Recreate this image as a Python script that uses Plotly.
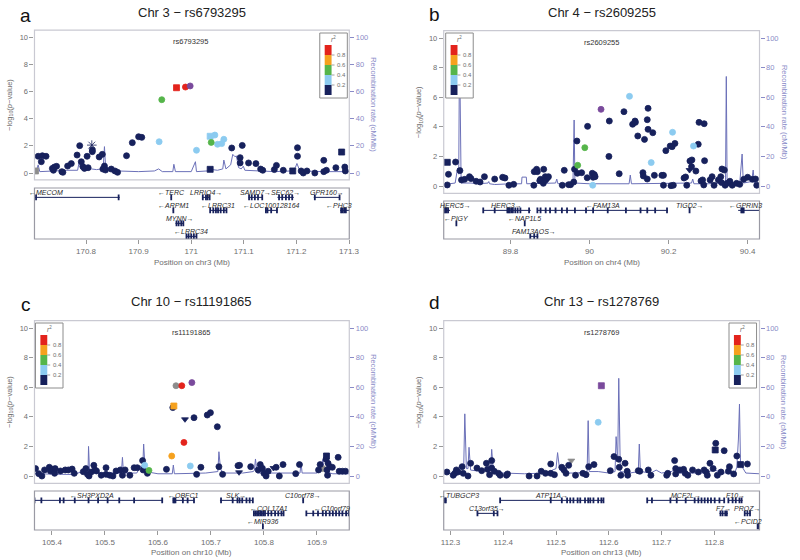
import plotly.graph_objects as go

W, H = 800, 560
FONT = "Liberation Sans, Arial, sans-serif"

# LD code: first char = r2 bin (n <0.2, b 0.2-0.4, g 0.4-0.6, o 0.6-0.8,
# r >0.8, p index SNP, x no LD), optional second char = marker shape
LD_COLOR = {
    "n": "#17215c", "b": "#8ccbf0", "g": "#55b54a", "o": "#f5a11e",
    "r": "#e3231c", "p": "#7a4a9c", "x": "#8c8c8c",
}
SHAPE = {"": "circle", "s": "square", "v": "triangle-down", "*": "asterisk-open"}
DRAW_ORDER = {"x": 0, "n": 1, "b": 2, "g": 3, "o": 4, "r": 5, "p": 6}
LEGEND_BANDS = ["r", "o", "g", "b", "n"]
LEGEND_LABELS = ["0.8", "0.6", "0.4", "0.2"]

NAVY = LD_COLOR["n"]
RECOMB = "#6b70b8"
RECOMB_AXIS = "#8a8cc8"
GRAY = "#6e6e6e"

# ---------------- panel a : chr3 ----------------
A_SNPS = [
    (170.704, 0.15, "xs"), (170.709, 1.23, "n"), (170.717, 1.27, "n"),
    (170.724, 1.23, "n"), (170.715, 0.83, "n"), (170.736, 0.34, "n"),
    (170.740, 0.44, "n"), (170.744, 0.49, "n"), (170.738, 0.20, "n"),
    (170.754, 0.10, "n"), (170.756, 0.05, "n"), (170.765, 0.51, "n"),
    (170.772, 0.69, "n"), (170.783, 1.32, "n"), (170.788, 2.01, "n"),
    (170.791, 0.83, "n"), (170.794, 0.47, "n"), (170.797, 0.34, "n"),
    (170.804, 0.39, "n"), (170.802, 1.23, "n"), (170.812, 1.57, "n"),
    (170.812, 1.70, "n"), (170.811, 2.05, "n*"), (170.825, 1.18, "n"),
    (170.831, 1.37, "n"), (170.832, 0.29, "n"), (170.835, 0.51, "n"),
    (170.837, 0.22, "n"), (170.848, 0.29, "n"), (170.855, 0.15, "n"),
    (170.860, 0.05, "n"), (170.877, 1.27, "n"), (170.888, 2.23, "n"),
    (170.900, 2.67, "n"), (170.906, 2.62, "n"), (171.036, 0.27, "ns"),
    (171.077, 1.84, "n"), (171.097, 2.03, "n"), (171.093, 1.13, "n"),
    (171.093, 0.74, "n"), (171.109, 0.74, "n"), (171.123, 0.69, "n"),
    (171.132, 0.29, "n"), (171.136, 0.20, "n"), (171.158, 0.25, "n"),
    (171.162, 0.56, "n"), (171.175, 0.20, "n"), (171.193, 0.15, "ns"),
    (171.202, 1.86, "n"), (171.202, 1.23, "n"), (171.209, 0.15, "n"),
    (171.213, 0.00, "n"), (171.220, 0.15, "n"), (171.235, 0.00, "n"),
    (171.252, 0.93, "n"), (171.252, 0.10, "n"), (171.257, 0.20, "n"),
    (171.275, 0.39, "n"), (171.286, 1.54, "ns"), (171.292, 0.44, "n"),
    (171.293, 0.15, "n"), (170.939, 2.30, "b"), (171.010, 1.67, "b"),
    (171.036, 2.70, "bs"), (171.045, 2.79, "b"), (171.050, 2.11, "b"),
    (171.058, 2.16, "b"), (171.062, 2.48, "b"), (171.038, 2.25, "g"),
    (170.944, 5.39, "g"), (170.972, 6.27, "rs"), (170.989, 6.32, "r"),
    (170.998, 6.40, "p"),
]
A_RECOMB_POS = [
    170.702, 170.706, 170.709, 170.712, 170.740, 170.760, 170.784, 170.787,
    170.790, 170.800, 170.810, 170.820, 170.830, 170.833, 170.835, 170.837,
    170.840, 170.850, 170.860, 170.900, 170.930, 170.938, 170.945, 170.965,
    170.967, 170.970, 171.000, 171.008, 171.010, 171.030, 171.040, 171.050,
    171.060, 171.062, 171.066, 171.075, 171.079, 171.083, 171.086, 171.090,
    171.095, 171.099, 171.102, 171.130, 171.160, 171.190, 171.198, 171.201,
    171.205, 171.210, 171.250, 171.300,
]
A_RECOMB_RATE = [
    1, 2, 6, 1, 1.5, 2, 2, 8.3, 3, 2, 3, 2.5, 3, 6, 19.4, 6,
    4, 3, 1.5, 1, 1.5, 3, 1, 1, 6.4, 1, 1, 8.3, 1, 1.5, 2.5, 2,
    3, 9.5, 3, 6, 13.7, 12, 12.5, 4, 3, 5, 2, 1.5, 1, 1.5, 4, 7,
    3, 1.5, 1, 1,
]
A_GENES = [  # name, start, end, strand, row, exons
    ("MECOM", 170.284, 170.864, "-", 1, [170.705, 170.862]),
    ("TERC", 170.961, 170.963, "-", 1, [170.962]),
    ("LRRIQ4", 171.022, 171.035, "+", 1, [171.022, 171.028, 171.031, 171.035]),
    ("SAMD7", 171.109, 171.136, "+", 1, [171.110, 171.115, 171.121, 171.127, 171.135]),
    ("SEC62", 171.164, 171.195, "+", 1, [171.167, 171.173, 171.180, 171.186, 171.192]),
    ("GPR160", 171.233, 171.283, "+", 1, [171.235, 171.282]),
    ("ARPM1", 170.965, 170.967, "-", 2, [170.966]),
    ("LRRC31", 171.036, 171.067, "-", 2,
     [171.036, 171.042, 171.047, 171.051, 171.056, 171.062, 171.067]),
    ("LOC100128164", 171.141, 171.164, "-", 2, [171.142, 171.145, 171.152, 171.163]),
    ("PHC3", 171.283, 171.350, "-", 2, [171.285, 171.288, 171.291, 171.294]),
    ("MYNN", 170.970, 170.986, "+", 3, [170.972, 170.976, 170.981, 170.985]),
    ("LRRC34", 170.990, 171.011, "-", 4, [170.991, 170.995, 171.000, 171.005, 171.010]),
]
A_TICKS = [170.8, 170.9, 171.0, 171.1, 171.2, 171.3]
A_TICK_TEXT = ["170.8", "170.9", "171", "171.1", "171.2", "171.3"]

# ---------------- panel b : chr4 ----------------
B_SNPS = [
    (89.640, 1.60, "ns"), (89.643, 0.79, "n"), (89.661, 1.62, "n"),
    (89.640, 0.07, "n"), (89.672, 1.04, "n"), (89.676, 0.41, "n"),
    (89.684, 0.45, "n"), (89.696, 0.63, "n"), (89.700, 0.50, "n"),
    (89.713, 0.32, "n"), (89.723, 0.27, "n"), (89.734, 0.63, "n"),
    (89.760, 0.47, "n"), (89.780, 0.59, "n"), (89.786, 0.54, "n"),
    (89.796, 0.05, "n"), (89.808, 0.11, "n"), (89.859, 0.05, "n"),
    (89.860, 0.97, "n"), (89.866, 1.13, "n"), (89.868, 0.97, "n"),
    (89.874, 0.36, "n"), (89.876, 0.45, "n"), (89.883, 0.18, "n"),
    (89.884, 1.13, "n"), (89.888, 0.63, "n"), (89.889, 0.41, "n"),
    (89.893, 0.54, "n"), (89.896, 0.63, "n"), (89.931, 0.05, "n"),
    (89.936, 1.06, "n"), (89.947, 0.09, "n"), (89.952, 0.09, "n"),
    (89.960, 0.27, "n"), (89.962, 1.13, "n"), (89.968, 3.04, "n"),
    (89.969, 0.86, "n"), (89.980, 0.90, "n"), (89.994, 0.56, "n"),
    (89.995, 4.03, "n"), (90.007, 0.86, "n"), (90.009, 0.59, "n"),
    (90.012, 0.77, "n"), (90.014, 0.63, "n"), (90.049, 2.00, "n"),
    (90.050, 4.39, "n"), (90.075, 0.83, "n"), (90.087, 5.02, "n"),
    (90.109, 4.17, "n"), (90.115, 4.39, "n"), (90.116, 4.30, "n"),
    (90.122, 3.38, "n"), (90.135, 0.90, "n"), (90.136, 0.68, "n"),
    (90.139, 3.15, "n"), (90.146, 0.47, "n"), (90.146, 4.48, "n"),
    (90.148, 5.25, "n"), (90.148, 3.83, "n"), (90.160, 3.60, "n"),
    (90.164, 0.72, "n"), (90.183, 0.72, "n"), (90.187, 0.72, "n"),
    (90.187, 0.05, "n"), (90.193, 2.39, "n"), (90.204, 2.70, "n"),
    (90.206, 0.02, "n"), (90.209, 2.66, "n"), (90.212, 0.05, "n"),
    (90.216, 2.88, "n"), (90.239, 0.54, "n"), (90.243, 0.61, "n"),
    (90.246, 0.05, "n"), (90.253, 1.08, "nv"), (90.254, 1.69, "n"),
    (90.258, 1.31, "n"), (90.259, 1.76, "n"), (90.269, 1.01, "n"),
    (90.275, 2.82, "n"), (90.277, 4.30, "n"), (90.282, 0.34, "n"),
    (90.286, 0.41, "n"), (90.289, 0.07, "n"), (90.290, 4.21, "n"),
    (90.291, 1.71, "n"), (90.305, 0.41, "n"), (90.310, 0.63, "n"),
    (90.315, 0.05, "n"), (90.326, 0.41, "n"), (90.332, 0.63, "n"),
    (90.334, 0.23, "n"), (90.335, 1.15, "n"), (90.341, 1.08, "n"),
    (90.343, 0.05, "n"), (90.348, 0.18, "n"), (90.355, 0.32, "n"),
    (90.361, 0.05, "n"), (90.372, 0.18, "n"), (90.380, 0.11, "n"),
    (90.390, 0.45, "n"), (90.400, 0.59, "n"), (90.412, 0.45, "n"),
    (90.420, 0.47, "n"), (90.423, 0.05, "n"), (89.970, 1.40, "g"),
    (89.988, 2.59, "g"), (90.008, 0.05, "b"), (90.101, 6.06, "b"),
    (90.156, 1.58, "b"), (90.210, 3.63, "b"), (90.263, 2.70, "b"),
    (90.029, 5.18, "p"),
]
B_RECOMB_POS = [
    89.631, 89.660, 89.666, 89.669, 89.671, 89.673, 89.675, 89.700,
    89.720, 89.743, 89.745, 89.747, 89.760, 89.800, 89.828, 89.829,
    89.840, 89.841, 89.870, 89.914, 89.917, 89.920, 89.958, 89.961,
    89.963, 90.000, 90.100, 90.103, 90.106, 90.200, 90.258, 90.261,
    90.264, 90.300, 90.344, 90.346, 90.348, 90.380, 90.386, 90.389,
    90.410, 90.414, 90.417, 90.430,
]
B_RECOMB_RATE = [
    1, 2, 12, 8, 98, 30, 2, 2, 1.5, 2, 3, 1.5, 1, 1.5, 1.5, 6,
    6, 1.5, 1.5, 2, 4.7, 1.5, 2, 44.6, 2, 1.5, 1.5, 7.4, 1.5, 1.5, 2, 4.7,
    1.5, 1.5, 2, 74, 2, 2, 21.6, 2, 3, 10.8, 2, 1.5,
]
B_GENES = [
    ("HERC5", 89.600, 89.647, "+", 1, [89.632, 89.635, 89.638, 89.642]),
    ("HERC3", 89.731, 89.851, "+", 1,
     [89.731, 89.760, 89.792, 89.795, 89.798, 89.802, 89.806, 89.812,
      89.818, 89.825, 89.847]),
    ("FAM13A", 89.868, 90.198, "-", 1,
     [89.868, 89.876, 89.889, 89.900, 89.914, 89.930, 89.943, 89.963,
      89.991, 90.009, 90.046, 90.092, 90.129, 90.146, 90.166, 90.196]),
    ("TIGD2", 90.252, 90.254, "+", 1, [90.253]),
    ("GPRIN3", 90.376, 90.450, "-", 1, [90.384, 90.387, 90.390]),
    ("PIGY", 89.662, 89.664, "-", 2, [89.663]),
    ("NAP1L5", 89.835, 89.837, "-", 2, [89.836]),
    ("FAM13AOS", 89.850, 89.870, "+", 3, [89.850, 89.860, 89.868]),
]
B_TICKS = [89.8, 90.0, 90.2, 90.4]
B_TICK_TEXT = ["89.8", "90", "90.2", "90.4"]

# ---------------- panel c : chr10 ----------------
C_SNPS = [
    (105.369, 0.50, "n"), (105.375, 0.16, "n"), (105.381, 0.00, "n"),
    (105.386, 0.41, "n"), (105.395, 0.59, "n"), (105.397, 0.34, "n"),
    (105.401, 0.45, "n"), (105.405, 0.18, "n"), (105.406, 0.50, "n"),
    (105.416, 0.34, "n"), (105.425, 0.41, "n"), (105.431, 0.41, "n"),
    (105.438, 0.47, "n"), (105.442, 0.18, "n"), (105.459, 0.29, "n"),
    (105.464, 0.50, "n"), (105.467, 0.11, "n"), (105.470, 0.00, "n"),
    (105.474, 0.27, "n"), (105.479, 0.72, "n"), (105.481, 0.41, "n"),
    (105.484, 0.34, "n"), (105.493, 0.05, "n"), (105.502, 0.56, "n"),
    (105.502, 0.11, "n"), (105.509, 0.05, "n"), (105.515, 0.00, "n"),
    (105.521, 0.34, "n"), (105.529, 0.41, "n"), (105.533, 0.05, "n"),
    (105.538, 0.41, "n"), (105.547, 0.05, "n"), (105.555, 0.56, "n"),
    (105.561, 0.56, "n"), (105.571, 1.04, "n"), (105.572, 0.41, "n"),
    (105.580, 0.18, "n"), (105.616, 0.45, "n"), (105.628, 4.62, "n"),
    (105.651, 3.83, "nv"), (105.668, 3.94, "n"), (105.673, 0.11, "n"),
    (105.681, 0.59, "n"), (105.693, 4.12, "n"), (105.699, 4.28, "n"),
    (105.712, 3.33, "n"), (105.715, 0.63, "n"), (105.722, 0.11, "n"),
    (105.751, 0.70, "n"), (105.753, 0.25, "nv"), (105.754, 0.72, "n"),
    (105.775, 0.63, "n"), (105.789, 0.41, "n"), (105.793, 0.77, "n"),
    (105.797, 0.52, "n"), (105.800, 0.18, "n"), (105.804, 0.00, "n"),
    (105.808, 0.32, "n"), (105.818, 0.54, "nv"), (105.823, 0.59, "n"),
    (105.829, 0.00, "n"), (105.836, 0.77, "n"), (105.860, 0.16, "n"),
    (105.867, 0.77, "n"), (105.903, 0.41, "n"), (105.906, 0.77, "n"),
    (105.917, 1.13, "n"), (105.918, 1.35, "ns"), (105.919, 0.41, "n"),
    (105.920, 0.05, "n"), (105.921, 0.86, "n"), (105.924, 0.63, "n"),
    (105.929, 0.59, "n"), (105.940, 1.26, "n"), (105.942, 0.32, "n"),
    (105.948, 0.32, "n"), (105.954, 0.32, "n"), (105.911, 0.50, "x"),
    (105.634, 6.10, "x"), (105.575, 0.72, "b"), (105.661, 0.68, "b"),
    (105.583, 0.38, "g"), (105.626, 1.35, "o"), (105.630, 4.73, "os"),
    (105.649, 2.27, "r"), (105.645, 6.10, "r"), (105.664, 6.31, "p"),
]
C_RECOMB_POS = [
    105.367, 105.400, 105.440, 105.458, 105.462, 105.468, 105.469, 105.471,
    105.500, 105.531, 105.533, 105.535, 105.560, 105.568, 105.571, 105.573,
    105.576, 105.600, 105.627, 105.629, 105.631, 105.660, 105.690, 105.713,
    105.715, 105.718, 105.722, 105.760, 105.780, 105.782, 105.784, 105.787,
    105.800, 105.840, 105.868, 105.870, 105.872, 105.900, 105.907, 105.911,
    105.914, 105.930, 105.961,
]
C_RECOMB_RATE = [
    1.5, 1.5, 1, 3, 2, 2, 20, 2, 2, 2, 12.6, 2, 2, 7, 3, 21.6,
    3, 1.5, 1.5, 7.4, 1.5, 1.5, 2, 3, 16.4, 5, 2, 2, 3, 4, 11.5, 2,
    2, 1.5, 2, 8.8, 2, 2, 4, 11, 3, 1.5, 1.5,
]
C_GENES = [
    ("SH3PXD2A", 105.343, 105.608, "-", 1,
     [105.367, 105.380, 105.415, 105.422, 105.443, 105.469, 105.487,
      105.505, 105.527, 105.555, 105.608]),
    ("OBFC1", 105.628, 105.668, "-", 1,
     [105.629, 105.631, 105.633, 105.647, 105.656, 105.668]),
    ("SLK", 105.717, 105.779, "+", 1,
     [105.719, 105.741, 105.750, 105.754, 105.759, 105.767, 105.773, 105.779]),
    ("C10orf78", 105.873, 105.875, "+", 1, [105.874]),
    ("COL17A1", 105.781, 105.837, "-", 2,
     [105.781, 105.784, 105.787, 105.790, 105.793, 105.796, 105.799,
      105.802, 105.808, 105.814, 105.821, 105.827, 105.833, 105.837]),
    ("C10orf79", 105.880, 105.990, "-", 2,
     [105.880, 105.893, 105.902, 105.911, 105.917, 105.924, 105.930,
      105.936, 105.942, 105.948, 105.955, 105.960]),
    ("MIR936", 105.797, 105.799, "-", 3, [105.798]),
]
C_TICKS = [105.4, 105.5, 105.6, 105.7, 105.8, 105.9]
C_TICK_TEXT = ["105.4", "105.5", "105.6", "105.7", "105.8", "105.9"]

# ---------------- panel d : chr13 ----------------
D_SNPS = [
    (112.293, 0.27, "n"), (112.305, 0.05, "n"), (112.308, 0.18, "n"),
    (112.311, 0.41, "n"), (112.314, 0.27, "n"), (112.322, 0.63, "n"),
    (112.324, 0.18, "n"), (112.333, 0.00, "n"), (112.338, 0.86, "n"),
    (112.350, 0.54, "n"), (112.359, 0.36, "n"), (112.368, 0.86, "n"),
    (112.370, 0.45, "n"), (112.374, 0.09, "n"), (112.378, 1.04, "n"),
    (112.378, 0.54, "n"), (112.383, 0.32, "n"), (112.391, 0.18, "n"),
    (112.394, 0.05, "n"), (112.406, 0.05, "n"), (112.408, 0.14, "n"),
    (112.449, 0.00, "n"), (112.464, 0.00, "n"), (112.472, 0.32, "n"),
    (112.480, 0.18, "n"), (112.490, 0.81, "n"), (112.490, 0.18, "n"),
    (112.497, 0.09, "n"), (112.511, 0.59, "n"), (112.515, 0.41, "n"),
    (112.519, 0.18, "n"), (112.524, 0.72, "n"), (112.537, 0.05, "n"),
    (112.551, 0.18, "n"), (112.557, 0.09, "n"), (112.562, 0.63, "n"),
    (112.572, 0.77, "n"), (112.603, 0.36, "n"), (112.610, 1.31, "n"),
    (112.619, 1.13, "n"), (112.620, 0.59, "n"), (112.623, 0.05, "n"),
    (112.631, 0.86, "n"), (112.635, 0.32, "n"), (112.636, 0.05, "n"),
    (112.656, 0.36, "n"), (112.659, 0.32, "n"), (112.675, 0.41, "n"),
    (112.680, 0.05, "n"), (112.710, 0.05, "n"), (112.712, 0.18, "n"),
    (112.725, 1.04, "n"), (112.727, 0.50, "n"), (112.727, 0.14, "n"),
    (112.735, 0.41, "n"), (112.742, 0.45, "n"), (112.745, 0.18, "n"),
    (112.750, 0.05, "n"), (112.759, 0.41, "n"), (112.770, 0.27, "n"),
    (112.781, 0.41, "n"), (112.785, 0.27, "n"), (112.787, 0.05, "n"),
    (112.792, 0.86, "n"), (112.798, 0.50, "n"), (112.802, 1.76, "ns"),
    (112.803, 2.21, "n"), (112.806, 0.05, "n"), (112.813, 0.27, "n"),
    (112.819, 1.71, "n"), (112.827, 0.32, "n"), (112.829, 0.63, "n"),
    (112.837, 0.14, "n"), (112.843, 1.35, "n"), (112.850, 0.77, "ns"),
    (112.863, 0.81, "n"), (112.529, 1.04, "xv"), (112.580, 3.63, "b"),
    (112.586, 6.10, "ps"),
]
D_RECOMB_POS = [
    112.287, 112.310, 112.318, 112.325, 112.327, 112.330, 112.333, 112.335,
    112.338, 112.360, 112.376, 112.378, 112.381, 112.400, 112.440, 112.480,
    112.500, 112.503, 112.507, 112.520, 112.540, 112.559, 112.561, 112.563,
    112.580, 112.600, 112.612, 112.614, 112.617, 112.619, 112.622, 112.640,
    112.656, 112.658, 112.660, 112.680, 112.690, 112.700, 112.720, 112.725,
    112.730, 112.780, 112.800, 112.820, 112.840, 112.843, 112.846, 112.848,
    112.850, 112.860, 112.886,
]
D_RECOMB_RATE = [
    1.5, 2, 7, 7.5, 42, 5, 5, 19.4, 4, 3, 5, 18, 4, 2, 1.5, 2,
    5, 15.8, 4, 2, 2, 3, 37.4, 3, 3, 2, 3, 26.6, 10, 66, 3, 2,
    3, 21.6, 3, 2, 4, 2, 3, 5, 2, 2, 4, 2, 3, 6, 25, 48.6,
    8, 2, 1.5,
]
D_GENES = [
    ("TUBGCP3", 112.190, 112.292, "-", 1, [112.2885, 112.291]),
    ("ATP11A", 112.394, 112.590, "+", 1,
     [112.394, 112.490, 112.511, 112.521, 112.527, 112.533, 112.541,
      112.546, 112.555, 112.561, 112.565, 112.571, 112.580, 112.586, 112.590]),
    ("MCF2L", 112.673, 112.819, "+", 1,
     [112.673, 112.682, 112.717, 112.729, 112.746, 112.763, 112.770,
      112.776, 112.782, 112.788, 112.794, 112.801, 112.810, 112.819]),
    ("F10", 112.826, 112.854, "+", 1, [112.827, 112.835, 112.841, 112.848, 112.852]),
    ("C13orf35", 112.350, 112.389, "+", 2, [112.351, 112.382, 112.389]),
    ("F7", 112.810, 112.826, "+", 2, [112.812, 112.816, 112.821, 112.824]),
    ("PROZ", 112.857, 112.869, "+", 2, [112.858, 112.863, 112.868]),
    ("PCID2", 112.882, 112.905, "-", 3, [112.8825, 112.8850]),
]
D_TICKS = [112.3, 112.4, 112.5, 112.6, 112.7, 112.8]
D_TICK_TEXT = ["112.3", "112.4", "112.5", "112.6", "112.7", "112.8"]

# panel layout in pixels: left, right, plot top, plot bottom, gene top, gene bottom
PANELS = [
    dict(letter="a", chrom="chr3", snp="rs6793295", title="Chr 3 \u2212 rs6793295",
         snps=A_SNPS, rpos=A_RECOMB_POS, rrate=A_RECOMB_RATE, genes=A_GENES,
         ticks=A_TICKS, ticktext=A_TICK_TEXT, xrange=[170.702, 171.3005],
         box=(32, 352, 30.2, 179.8, 188, 239), legend=(322, 33),
         title_y=12, letter_xy=(23, 15), xtitle_y=262),
    dict(letter="b", chrom="chr4", snp="rs2609255", title="Chr 4 \u2212 rs2609255",
         snps=B_SNPS, rpos=B_RECOMB_POS, rrate=B_RECOMB_RATE, genes=B_GENES,
         ticks=B_TICKS, ticktext=B_TICK_TEXT, xrange=[89.631, 90.430],
         box=(448, 769, 30.6, 193.4, 201, 239), legend=(450, 33),
         title_y=12, letter_xy=(439, 14), xtitle_y=262),
    dict(letter="c", chrom="chr10", snp="rs11191865", title="Chr 10 \u2212 rs11191865",
         snps=C_SNPS, rpos=C_RECOMB_POS, rrate=C_RECOMB_RATE, genes=C_GENES,
         ticks=C_TICKS, ticktext=C_TICK_TEXT, xrange=[105.367, 105.961],
         box=(32, 352, 320.6, 483.4, 491, 530), legend=(33, 323),
         title_y=301, letter_xy=(23, 304), xtitle_y=552),
    dict(letter="d", chrom="chr13", snp="rs1278769", title="Chr 13 \u2212 rs1278769",
         snps=D_SNPS, rpos=D_RECOMB_POS, rrate=D_RECOMB_RATE, genes=D_GENES,
         ticks=D_TICKS, ticktext=D_TICK_TEXT, xrange=[112.287, 112.886],
         box=(448, 769, 320.6, 483.4, 491, 530), legend=(738, 323),
         title_y=301, letter_xy=(439, 302), xtitle_y=552),
]

ROW_PX = 13.0       # vertical spacing of gene rows
CHAR_PX = 4.0       # approx width of one gene-label character


def ref(ax, n):
    return ax if n == 1 else f"{ax}{n}"


def key(ax, n):
    return f"{ax}axis" if n == 1 else f"{ax}axis{n}"


def fx(px):
    return px / W


def fy(py):
    return 1 - py / H


def note(x, y, text, size, color, xref="paper", yref="paper", **kw):
    d = dict(x=x, y=y, xref=xref, yref=yref, text=text, showarrow=False,
             xanchor="center", yanchor="middle",
             font=dict(size=size, color=color, family=FONT))
    d.update(kw)
    return d


fig = go.Figure()
layout = {}
shapes = []
annotations = []

for i, p in enumerate(PANELS):
    xm, xg = 2 * i + 1, 2 * i + 2
    yr, yl, yg = 3 * i + 1, 3 * i + 2, 3 * i + 3
    left, right, top, bottom, gtop, gbottom = p["box"]
    x0, x1 = p["xrange"]
    mb_per_px = (x1 - x0) / (right - left)
    xdom = [fx(left), fx(right)]

    # recombination rate (base axis, right side)
    fig.add_trace(go.Scatter(
        x=p["rpos"], y=p["rrate"], mode="lines",
        line=dict(color=RECOMB, width=1),
        xaxis=ref("x", xm), yaxis=ref("y", yr), hoverinfo="skip",
    ))

    # association points (overlay axis, left side)
    pts = sorted(p["snps"], key=lambda s: DRAW_ORDER[s[2][0]])
    colors = [LD_COLOR[s[2][0]] for s in pts]
    symbols = [SHAPE[s[2][1:]] for s in pts]
    sizes = [8 if s[2][1:] == "*" else 6 for s in pts]
    fig.add_trace(go.Scatter(
        x=[s[0] for s in pts], y=[s[1] for s in pts], mode="markers",
        marker=dict(color=colors, symbol=symbols, size=sizes, opacity=1,
                    line=dict(color=colors, width=0.8)),
        xaxis=ref("x", xm), yaxis=ref("y", yl),
        hovertemplate="%{x:.3f} Mb<br>%{y:.2f}<extra></extra>",
    ))

    # genes
    gx, gy, ex, ey = [], [], [], []
    for name, start, end, strand, row, exons in p["genes"]:
        yrow = 0.72 + (row - 1)
        gx += [start, end, None]
        gy += [yrow, yrow, None]
        ex += exons
        ey += [yrow] * len(exons)
        label = f"\u2190{name}" if strand == "-" else f"{name}\u2192"
        half = len(label) * CHAR_PX / 2 * mb_per_px
        cx = (start + end) / 2
        cx = min(max(cx, x0 + half), x1 - half)
        annotations.append(note(cx, yrow - 0.36, f"<i>{label}</i>", 7, "#2a2a2a",
                                xref=ref("x", xg), yref=ref("y", yg)))
    fig.add_trace(go.Scatter(
        x=gx, y=gy, mode="lines", line=dict(color=NAVY, width=1),
        xaxis=ref("x", xg), yaxis=ref("y", yg), hoverinfo="skip",
    ))
    fig.add_trace(go.Scatter(
        x=ex, y=ey, mode="markers",
        marker=dict(symbol="line-ns-open", size=4, color=NAVY,
                    line=dict(color=NAVY, width=1.8)),
        xaxis=ref("x", xg), yaxis=ref("y", yg), hoverinfo="skip",
    ))

    # axes
    layout[key("x", xm)] = dict(
        domain=xdom, range=p["xrange"], anchor=ref("y", yr),
        showticklabels=False, ticks="", showgrid=False, zeroline=False,
        showline=False,
    )
    layout[key("y", yr)] = dict(
        domain=[fy(bottom), fy(top)], range=[-5, 105], side="right",
        anchor=ref("x", xm), tickvals=[0, 20, 40, 60, 80, 100],
        ticks="outside", ticklen=4, tickcolor=RECOMB_AXIS,
        tickfont=dict(size=7.5, color=RECOMB_AXIS, family=FONT),
        showgrid=False, zeroline=False, showline=False,
    )
    layout[key("y", yl)] = dict(
        overlaying=ref("y", yr), side="left", anchor=ref("x", xm),
        range=[-0.5, 10.5], tickvals=[0, 2, 4, 6, 8, 10],
        ticks="outside", ticklen=4, tickcolor="#999999",
        tickfont=dict(size=7.5, color=GRAY, family=FONT),
        showgrid=False, zeroline=False, showline=False,
    )
    layout[key("x", xg)] = dict(
        domain=xdom, range=p["xrange"], anchor=ref("y", yg),
        tickvals=p["ticks"], ticktext=p["ticktext"],
        ticks="outside", ticklen=4, tickcolor="#999999",
        tickfont=dict(size=8, color=GRAY, family=FONT),
        showgrid=False, zeroline=False, showline=False,
    )
    layout[key("y", yg)] = dict(
        domain=[fy(gbottom), fy(gtop)], range=[(gbottom - gtop) / ROW_PX, 0],
        visible=False,
    )

    # frames
    shapes.append(dict(type="rect", xref="paper", yref="paper",
                       x0=fx(left), x1=fx(right), y0=fy(bottom), y1=fy(top),
                       line=dict(color="#c9c9d2", width=1.2), layer="above"))
    shapes.append(dict(type="rect", xref="paper", yref="paper",
                       x0=fx(left), x1=fx(right), y0=fy(gbottom), y1=fy(gtop),
                       line=dict(color="#9a9aa4", width=1.2), layer="above"))

    # r2 legend
    lx, ly = p["legend"]
    shapes.append(dict(type="rect", xref="paper", yref="paper",
                       x0=fx(lx), x1=fx(lx + 28), y0=fy(ly + 65), y1=fy(ly),
                       fillcolor="white", line=dict(color="#8c8c8c", width=1),
                       layer="above"))
    for k, code in enumerate(LEGEND_BANDS):
        shapes.append(dict(type="rect", xref="paper", yref="paper",
                           x0=fx(lx + 5), x1=fx(lx + 12),
                           y0=fy(ly + 22 + 10 * k), y1=fy(ly + 12 + 10 * k),
                           fillcolor=LD_COLOR[code], line=dict(width=0),
                           layer="above"))
    for k, lab in enumerate(LEGEND_LABELS):
        yy = ly + 22 + 10 * k
        shapes.append(dict(type="line", xref="paper", yref="paper",
                           x0=fx(lx + 12), x1=fx(lx + 15), y0=fy(yy), y1=fy(yy),
                           line=dict(color="#8c8c8c", width=0.8), layer="above"))
        annotations.append(note(fx(lx + 15.5), fy(yy), lab, 6, GRAY, xanchor="left"))
    annotations.append(note(fx(lx + 14), fy(ly + 6), "<i>r</i><sup>2</sup>", 6.5, GRAY))

    # index SNP label
    idx = [s for s in p["snps"] if s[2][0] == "p"][0]
    annotations.append(note(idx[0], 9.7, p["snp"], 7.5, "#333333",
                            xref=ref("x", xm), yref=ref("y", yl)))

    # titles
    cx = (left + right) / 2
    annotations += [
        note(fx(cx), fy(p["title_y"]), p["title"], 13, "#222222"),
        note(fx(p["letter_xy"][0]), fy(p["letter_xy"][1]), p["letter"], 19, "#111111"),
        note(fx(cx), fy(p["xtitle_y"]), f"Position on {p['chrom']} (Mb)", 8, GRAY),
        note(fx(left - 25), fy((top + bottom) / 2),
             "\u2212log<sub>10</sub>(<i>p</i>\u2212value)", 7.5, GRAY, textangle=-90),
        note(fx(right + 25), fy((top + bottom) / 2),
             "Recombination rate (cM/Mb)", 7.5, RECOMB_AXIS, textangle=90),
    ]

fig.update_layout(
    width=W, height=H, margin=dict(l=0, r=0, t=0, b=0),
    paper_bgcolor="white", plot_bgcolor="white", showlegend=False,
    font=dict(family=FONT), shapes=shapes, annotations=annotations,
    **layout,
)

fig.write_html("out.html", config={"displayModeBar": False},
               post_script="document.body.style.margin = '0';")
